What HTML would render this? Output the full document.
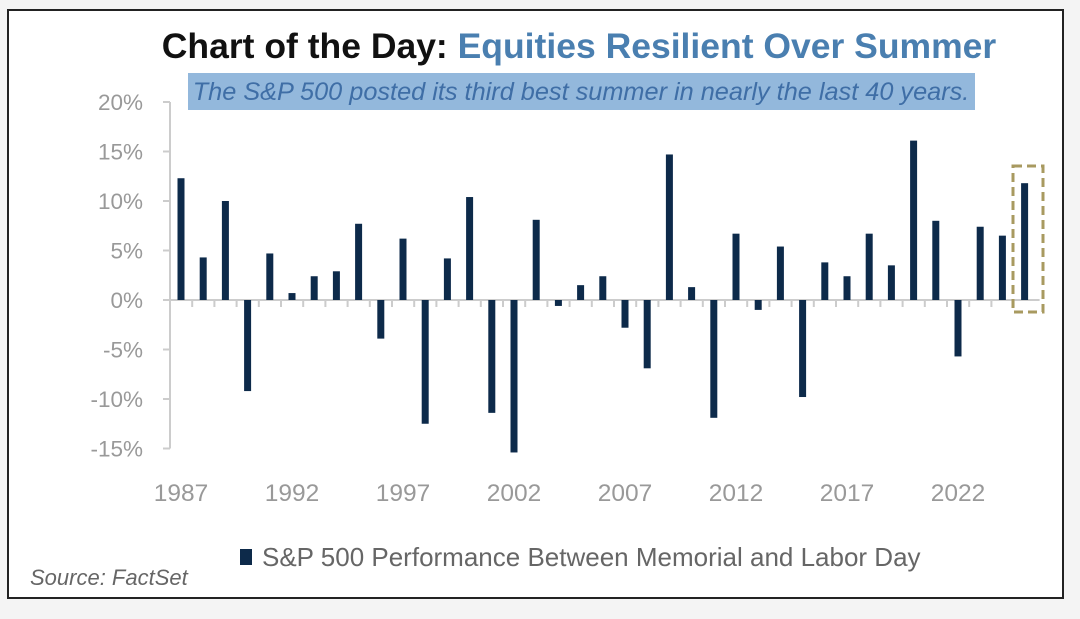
<!DOCTYPE html>
<html><head><meta charset="utf-8"><style>
body{margin:0;background:#f4f4f4;}
svg{display:block;font-family:"Liberation Sans",sans-serif;}
</style></head><body>
<svg width="1080" height="619" viewBox="0 0 1080 619">
<rect x="8" y="10" width="1055" height="588" fill="#fff" stroke="#222" stroke-width="2"/>
<text x="579" y="58" text-anchor="middle" font-size="35.5" font-weight="bold"><tspan fill="#111">Chart of the Day: </tspan><tspan fill="#4a7fb0">Equities Resilient Over Summer</tspan></text>
<rect x="188" y="73" width="787" height="37" fill="#93b8dc"/>
<text x="581" y="100" text-anchor="middle" font-size="25.3" font-style="italic" fill="#3f6ea6">The S&amp;P 500 posted its third best summer in nearly the last 40 years.</text>
<g id="axes"></g>
<g id="bars"></g>
<rect x="1013" y="166" width="30" height="146" fill="none" stroke="#a89a60" stroke-width="3" stroke-dasharray="9,5"/>
<rect x="240" y="549" width="12" height="16" fill="#0d2a4a"/>
<text x="262" y="566" font-size="26" fill="#666">S&amp;P 500 Performance Between Memorial and Labor Day</text>
<text x="30" y="585" font-size="22" font-style="italic" fill="#666">Source: FactSet</text>
</svg>
<script>
const years=[1987,1988,1989,1990,1991,1992,1993,1994,1995,1996,1997,1998,1999,2000,2001,2002,2003,2004,2005,2006,2007,2008,2009,2010,2011,2012,2013,2014,2015,2016,2017,2018,2019,2020,2021,2022,2023,2024,2025];
const values=[12.3,4.3,10.0,-9.2,4.7,0.7,2.4,2.9,7.7,-3.9,6.2,-12.5,4.2,10.4,-11.4,-15.4,8.1,-0.6,1.5,2.4,-2.8,-6.9,14.7,1.3,-11.9,6.7,-1.0,5.4,-9.8,3.8,2.4,6.7,3.5,16.1,8.0,-5.7,7.4,6.5,11.8];
const yTicks=[20,15,10,5,0,-5,-10,-15];
const yLabels=["20%","15%","10%","5%","0%","-5%","-10%","-15%"];
const xLabelYears=[1987,1992,1997,2002,2007,2012,2017,2022];
const NS="http://www.w3.org/2000/svg";
const y=v=>300-v*9.9;
const x=yr=>181+(yr-1987)*22.2;
const axes=document.getElementById('axes'),bars=document.getElementById('bars');
function mk(tag,attrs,parent){const e=document.createElementNS(NS,tag);for(const k in attrs)e.setAttribute(k,attrs[k]);parent.appendChild(e);return e;}
const ya=mk('line',{x1:170,x2:170,y1:y(20),y2:y(-15),stroke:'#ccc','stroke-width':2},axes);


yTicks.forEach((t,i)=>{
  const tk=mk('line',{x1:163,x2:170,y1:y(t),y2:y(t),stroke:'#ccc','stroke-width':2},axes);
  
  
  const tx=mk('text',{x:143,y:y(t)+8,'text-anchor':'end','font-size':22.5,fill:'#999'},axes);
  tx.textContent=yLabels[i];
  
  
});
const za=mk('line',{x1:170,x2:x(2025)+15,y1:y(0),y2:y(0),stroke:'#ccc','stroke-width':2},axes);


years.forEach((yr,i)=>{
  if(i>0){const tk=mk('line',{x1:x(yr)-11,x2:x(yr)-11,y1:y(0),y2:y(0)+7,stroke:'#ccc','stroke-width':2},axes);
  
  }
  const v=values[i];
  const b=mk('rect',{x:x(yr)-3.5,width:7,y:Math.min(y(v),y(0)),height:Math.abs(y(v)-y(0)),fill:'#0d2a4a'},bars);
  
  
});
xLabelYears.forEach(yr=>{
  const tx=mk('text',{x:x(yr),y:501,'text-anchor':'middle','font-size':24.5,fill:'#999'},axes);
  tx.textContent=yr;
  
  
});
</script>
</body></html>
